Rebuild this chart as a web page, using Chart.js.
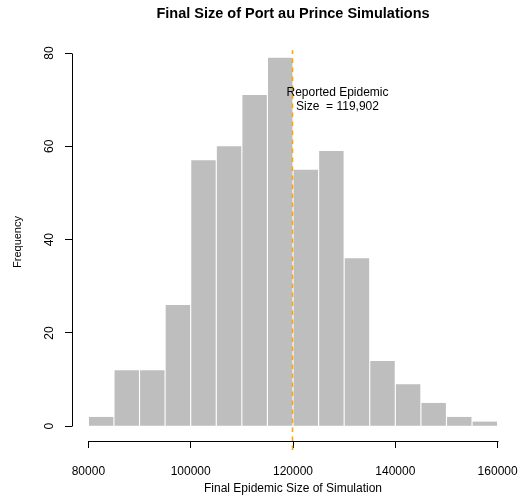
<!DOCTYPE html>
<html>
<head>
<meta charset="utf-8">
<script src="https://cdn.jsdelivr.net/npm/chart.js@4"></script>
<style>
html,body{margin:0;padding:0;background:#fff;}
#wrap{width:521px;height:503px;}
</style>
</head>
<body>
<div id="wrap"><canvas id="c" width="521" height="503"></canvas></div>
<script>
// ---- data ----
const binStarts = [80000, 85000, 90000, 95000, 100000, 105000, 110000, 115000,
                   120000, 125000, 130000, 135000, 140000, 145000, 150000, 155000];
const binWidth = 5000;
const frequencies = [2, 12, 12, 26, 57, 60, 71, 79, 55, 59, 36, 14, 9, 5, 2, 1];
const xTicks = [80000, 100000, 120000, 140000, 160000];
const yTicks = [0, 20, 40, 60, 80];
const reportedSize = 119902;
const refLineSpan = [-5.1, 80.6];
const annotationLines = ["Reported Epidemic", "Size  = 119,902"];
const annotationAt = [128700, 70];
const xRange = [76800, 163200];
const yRange = [-3.16, 82.16];
const titleText = "Final Size of Port au Prince Simulations";
const xTitle = "Final Epidemic Size of Simulation";
const yTitle = "Frequency";

const FONT = '"Liberation Sans", Arial, Helvetica, sans-serif';

const rStyle = {
  id: 'rStyle',
  afterDraw(chart) {
    const {ctx, chartArea, scales} = chart;
    const xs = scales.x, ys = scales.y;
    ctx.save();
    ctx.strokeStyle = '#000';
    ctx.lineWidth = 1;
    // x axis line from first to last tick
    const yb = Math.round(chartArea.bottom) + 0.5;
    ctx.beginPath();
    ctx.moveTo(Math.round(xs.getPixelForValue(xTicks[0])) + 0.5, yb);
    ctx.lineTo(Math.round(xs.getPixelForValue(xTicks[xTicks.length - 1])) + 0.5, yb);
    ctx.stroke();
    // y axis line
    const xl = Math.round(chartArea.left) + 0.5;
    ctx.beginPath();
    ctx.moveTo(xl, Math.round(ys.getPixelForValue(yTicks[0])) + 0.5);
    ctx.lineTo(xl, Math.round(ys.getPixelForValue(yTicks[yTicks.length - 1])) + 0.5);
    ctx.stroke();
    // rotated y tick labels
    ctx.fillStyle = '#000';
    ctx.font = '12px ' + FONT;
    ctx.textAlign = 'center';
    ctx.textBaseline = 'middle';
    ys.ticks.forEach(t => {
      ctx.save();
      ctx.translate(chartArea.left - 22, ys.getPixelForValue(t.value));
      ctx.rotate(-Math.PI / 2);
      ctx.fillText(String(t.value), 0, 0);
      ctx.restore();
    });
    // annotation
    const ax = xs.getPixelForValue(annotationAt[0]);
    const ay = ys.getPixelForValue(annotationAt[1]);
    const lh = 14;
    annotationLines.forEach((s, i) => {
      ctx.fillText(s, ax, ay + (i - (annotationLines.length - 1) / 2) * lh);
    });
    ctx.restore();
  }
};

const gridOpts = {
  display: true,
  offset: false,
  drawOnChartArea: false,
  drawTicks: true,
  tickLength: 7,
  color: '#000',
  tickColor: '#000',
  lineWidth: 1
};

new Chart(document.getElementById('c'), {
  type: 'bar',
  data: {
    datasets: [
      {
        type: 'line',
        data: refLineSpan.map(v => ({x: reportedSize, y: v})),
        borderColor: '#FFA500',
        borderWidth: 1.6,
        borderDash: [4.5, 4.5],
        pointRadius: 0,
        clip: false,
        order: 0
      },
      {
        type: 'bar',
        data: binStarts.map((s, i) => ({x: s + binWidth / 2, y: frequencies[i]})),
        backgroundColor: '#BEBEBE',
        borderWidth: 0,
        barPercentage: 0.955,
        categoryPercentage: 1,
        order: 1
      }
    ]
  },
  options: {
    responsive: false,
    animation: false,
    devicePixelRatio: 1,
    layout: {padding: {left: 0, right: 7, top: 0, bottom: 0}},
    plugins: {
      legend: {display: false},
      tooltip: {enabled: false},
      title: {
        display: true,
        text: titleText,
        fullSize: false,
        color: '#000',
        font: {family: FONT, size: 14.5, weight: 'bold'},
        padding: {top: 5, bottom: 20.6}
      }
    },
    scales: {
      x: {
        type: 'linear',
        min: xRange[0],
        max: xRange[1],
        offset: false,
        afterBuildTicks: s => { s.ticks = xTicks.map(v => ({value: v})); },
        afterFit: s => { s.height = 62; s.paddingLeft = 0; s.paddingRight = 0; },
        border: {display: false},
        grid: gridOpts,
        ticks: {
          color: '#000',
          font: {family: FONT, size: 12},
          padding: 16,
          maxRotation: 0,
          autoSkip: false,
          includeBounds: false,
          callback: v => String(v)
        },
        title: {
          display: true,
          text: xTitle,
          color: '#000',
          font: {family: FONT, size: 12},
          padding: {top: 0, bottom: 6.8}
        }
      },
      y: {
        type: 'linear',
        min: yRange[0],
        max: yRange[1],
        afterBuildTicks: s => { s.ticks = yTicks.map(v => ({value: v})); },
        afterFit: s => { s.width = 72; s.paddingTop = 0; s.paddingBottom = 0; },
        border: {display: false},
        grid: gridOpts,
        ticks: {display: false, includeBounds: false},
        title: {
          display: true,
          text: yTitle,
          color: '#000',
          font: {family: FONT, size: 11},
          padding: {top: 11.4, bottom: 0}
        }
      }
    }
  },
  plugins: [rStyle]
});
</script>
</body>
</html>
